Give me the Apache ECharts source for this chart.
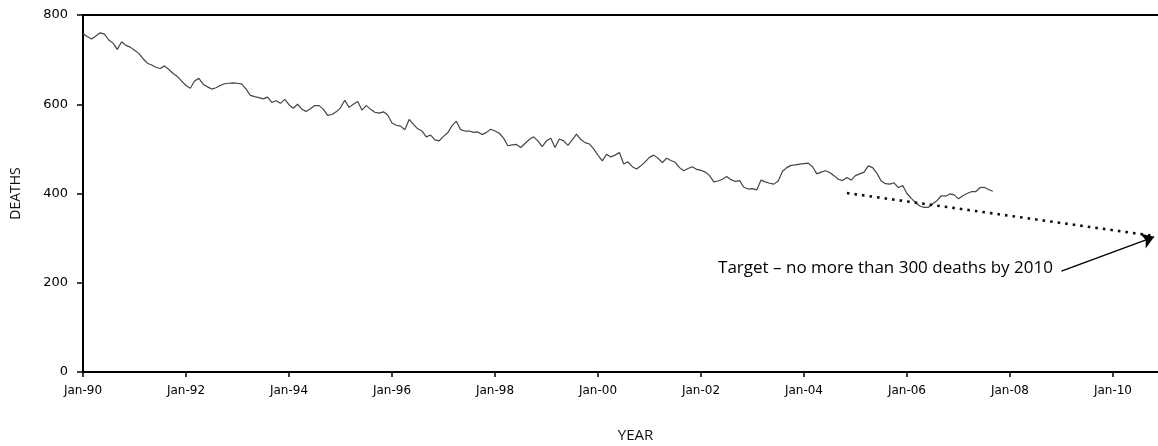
<!DOCTYPE html>
<html>
<head>
<meta charset="utf-8">
<script src="https://cdn.jsdelivr.net/npm/echarts@6/dist/echarts.min.js"></script>
<style>
  html, body { margin: 0; padding: 0; background: #fff; }
  #chart { width: 1158px; height: 446px; }
</style>
</head>
<body>
<div id="chart"></div>
<script>
// monthly deaths, Jan-90 .. Sep-07 (index 0 = Jan 1990)
var deaths = [
  758, 752, 746, 753, 760, 757, 744, 737, 723, 740, 732, 728,
  721, 714, 702, 692, 688, 683, 680, 686, 678, 669, 662, 652,
  642, 636, 652, 658, 645, 639, 634, 637, 642, 646, 647, 648,
  647, 645, 634, 620, 617, 615, 612, 616, 604, 608, 602, 611,
  599, 591, 600, 589, 584, 590, 597, 597, 589, 575, 577, 583,
  592, 609, 593, 600, 606, 587, 597, 589, 582, 580, 583, 576,
  558, 553, 551, 543, 566, 555, 545, 540, 527, 531, 520, 518,
  528, 536, 552, 562, 543, 540, 540, 537, 538, 532, 537, 544,
  540, 535, 524, 507, 509, 510, 503, 512, 521, 527, 518, 505,
  518, 524, 503, 522, 518, 508, 520, 533, 521, 514, 511, 500,
  486, 473, 488, 482, 486, 492, 466, 471, 460, 455, 462, 471,
  481, 486, 479, 469, 479, 474, 470, 458, 451, 456, 460, 454,
  452, 448, 440, 426, 428, 432, 438, 431, 427, 429, 414, 410,
  411, 408, 430, 426, 423, 421, 428, 450, 458, 463, 464, 466,
  467, 468, 460, 444, 448, 451, 447, 440, 432, 429, 436, 430,
  440, 444, 448, 462, 458, 445, 428, 422, 421, 424, 413, 418,
  400, 389, 380, 372, 369, 369, 377, 384, 395, 394, 399, 397,
  388, 395, 400, 404, 404, 413, 414, 409, 405
];

// target trend (month index, deaths)
var targetMonths = [178, 249.5];
var targetValues = [401, 305];

// annotation arrow and text
var arrowFrom = [228, 226];
var arrowTo = [249.6, 303];
var labelAt = [226, 233];
var labelText = 'Target \u2013 no more than 300 deaths by 2010';

var yTicks = [0, 200, 400, 600, 800];

var lineData = deaths.map(function (v, i) { return [i, v]; });
var targetData = targetMonths.map(function (m, i) { return [m, targetValues[i]]; });

var myChart = echarts.init(document.getElementById('chart'));
var option = {
  animation: false,
  grid: { left: 83, right: 0, top: 15, bottom: 74, containLabel: false, outerBoundsMode: 'none' },
  xAxis: [
    {
      type: 'value',
      min: 0,
      max: 250.5,
      interval: 24,
      name: 'YEAR',
      nameLocation: 'middle',
      nameGap: 56,
      nameTextStyle: { fontFamily: 'Open Sans', fontSize: 15, color: '#111', padding: [0, 0, 0, 30] },
      axisLine: { lineStyle: { color: '#000', width: 2 } },
      axisTick: { show: true, length: 5, lineStyle: { color: '#000', width: 1.5 } },
      axisLabel: {
        margin: 13,
        showMaxLabel: false,
        fontFamily: 'DejaVu Sans',
        fontSize: 12,
        color: '#000',
        formatter: function (v) {
          var yy = (90 + Math.round(v / 12)) % 100;
          return 'Jan-' + (yy < 10 ? '0' + yy : yy);
        }
      },
      splitLine: { show: false }
    },
    {
      type: 'value',
      position: 'top',
      min: 0,
      max: 250.5,
      axisLine: { lineStyle: { color: '#000', width: 2 } },
      axisTick: { show: false },
      axisLabel: { show: false },
      splitLine: { show: false }
    }
  ],
  yAxis: {
    type: 'value',
    min: yTicks[0],
    max: yTicks[yTicks.length - 1],
    interval: 200,
    name: 'DEATHS',
    nameLocation: 'middle',
    nameRotate: 90,
    nameGap: 60,
    nameTextStyle: { fontFamily: 'Open Sans', fontSize: 14, color: '#111' },
    axisLine: { show: true, lineStyle: { color: '#000', width: 2 } },
    axisTick: { show: true, inside: false, length: 6, lineStyle: { color: '#000', width: 1.5 } },
    axisLabel: { margin: 15, fontFamily: 'DejaVu Sans', fontSize: 13, color: '#000' },
    splitLine: { show: false }
  },
  series: [
    {
      name: 'Deaths',
      type: 'line',
      data: lineData,
      showSymbol: false,
      symbol: 'none',
      lineStyle: { color: '#444', width: 1.2 }
    },
    {
      name: 'Target',
      type: 'line',
      data: targetData,
      symbol: 'none',
      clip: false,
      lineStyle: { color: '#111', width: 2.6, type: [2.6, 5], cap: 'butt' },
      markLine: {
        silent: true,
        symbol: ['none', 'arrow'],
        symbolSize: 12,
        lineStyle: { color: '#000', width: 1.4, type: 'solid' },
        itemStyle: { color: '#000' },
        label: { show: false },
        data: [[{ coord: arrowFrom }, { coord: arrowTo }]]
      },
      markPoint: {
        silent: true,
        symbol: 'circle',
        symbolSize: 0,
        data: [{ coord: labelAt }],
        label: {
          show: true,
          position: 'left',
          distance: 0,
          formatter: labelText,
          fontFamily: 'Open Sans',
          fontSize: 17,
          color: '#000'
        }
      }
    }
  ]
};
myChart.setOption(option);
</script>
</body>
</html>
